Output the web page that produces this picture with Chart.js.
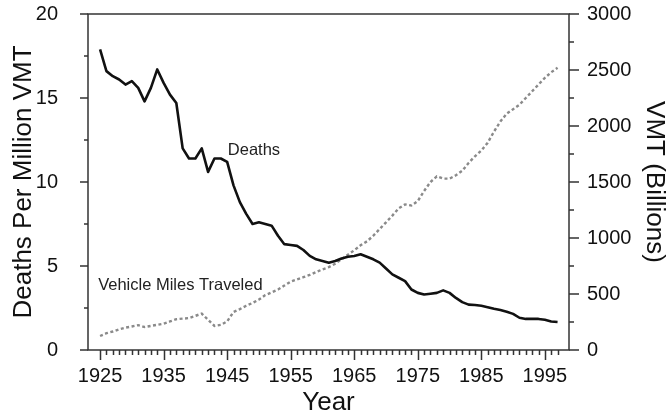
<!DOCTYPE html>
<html>
<head>
<meta charset="utf-8">
<script src="https://cdn.jsdelivr.net/npm/chart.js@4"></script>
<style>
  html, body { margin: 0; padding: 0; background: #fff; }
  #wrap { width: 668px; height: 415px; position: relative; }
</style>
</head>
<body>
<div id="wrap"><canvas id="c"></canvas></div>
<script>
// ---- data ----
const years = [];
for (let yr = 1925; yr <= 1997; yr++) years.push(yr);

const deaths = [
  17.9, 16.6, 16.3, 16.1, 15.8, 16.0, 15.6, 14.8, 15.6, 16.7,   // 1925-1934
  15.9, 15.2, 14.7, 12.0, 11.4, 11.4, 12.0, 10.6, 11.4, 11.4,   // 1935-1944
  11.2, 9.8, 8.8, 8.1, 7.5, 7.6, 7.5, 7.4, 6.8, 6.3,            // 1945-1954
  6.25, 6.2, 5.95, 5.6, 5.4, 5.3, 5.2, 5.3, 5.45, 5.55,         // 1955-1964
  5.6, 5.7, 5.55, 5.4, 5.2, 4.85, 4.5, 4.3, 4.1, 3.6,           // 1965-1974
  3.4, 3.3, 3.35, 3.4, 3.55, 3.4, 3.1, 2.85, 2.7, 2.68,         // 1975-1984
  2.63, 2.55, 2.45, 2.38, 2.28, 2.15, 1.92, 1.85, 1.85, 1.85,   // 1985-1994
  1.8, 1.7, 1.67                                                // 1995-1997
];

const vmt = [
  125, 150, 165, 185, 200, 210, 222, 205, 215, 225,             // 1925-1934
  235, 255, 275, 280, 285, 305, 325, 270, 215, 225,             // 1935-1944
  255, 340, 365, 395, 420, 450, 490, 515, 540, 575,             // 1945-1954
  610, 630, 650, 670, 695, 720, 740, 770, 810, 850,             // 1955-1964
  890, 935, 970, 1020, 1080, 1140, 1200, 1265, 1300, 1290,      // 1965-1974
  1330, 1420, 1500, 1550, 1530, 1530, 1560, 1600, 1670, 1730,   // 1975-1984
  1780, 1850, 1950, 2040, 2110, 2150, 2190, 2250, 2310, 2370,   // 1985-1994
  2430, 2480, 2520                                              // 1995-1997
];

const xTickLabels = [1925, 1935, 1945, 1955, 1965, 1975, 1985, 1995];
const yLeftTicks = [0, 5, 10, 15, 20];
const yRightTicks = [0, 500, 1000, 1500, 2000, 2500, 3000];

const labelDeaths = 'Deaths';
const labelVmt = 'Vehicle Miles Traveled';

// ---- chart ----
const FONT = "'Liberation Sans', Arial, Helvetica, sans-serif";

const frame = {
  id: 'frame',
  afterDraw(chart) {
    const { ctx, chartArea: a, scales: { x, y, y2 } } = chart;
    ctx.save();
    ctx.strokeStyle = '#333';
    ctx.lineWidth = 1.5;
    ctx.strokeRect(a.left, a.top, a.right - a.left, a.bottom - a.top);
    ctx.beginPath();
    for (const yr of years) {
      const px = Math.round(x.getPixelForValue(yr)) + 0.5;
      const len = (yr - 1925) % 10 === 0 ? 10 : 5;
      ctx.moveTo(px, a.bottom);
      ctx.lineTo(px, a.bottom + len);
    }
    for (let v = 0; v <= 20; v += 2.5) {
      const py = y.getPixelForValue(v);
      const len = v % 5 === 0 ? 8 : 4;
      ctx.moveTo(a.left - len, py);
      ctx.lineTo(a.left, py);
    }
    for (let v = 0; v <= 3000; v += 250) {
      const py = y2.getPixelForValue(v);
      const len = v % 500 === 0 ? 10 : 5;
      ctx.moveTo(a.right, py);
      ctx.lineTo(a.right + len, py);
    }
    ctx.stroke();

    ctx.fillStyle = '#222';
    ctx.font = '16.5px ' + FONT;
    ctx.textBaseline = 'alphabetic';
    ctx.textAlign = 'left';
    ctx.fillText(labelDeaths, x.getPixelForValue(1945.1), y.getPixelForValue(11.6));
    ctx.fillText(labelVmt, x.getPixelForValue(1924.7), y.getPixelForValue(3.55));
    ctx.restore();
  }
};

new Chart(document.getElementById('c'), {
  type: 'line',
  data: {
    datasets: [
      {
        label: labelDeaths,
        data: years.map((yr, i) => ({ x: yr, y: deaths[i] })),
        yAxisID: 'y',
        borderColor: '#111',
        borderWidth: 2.6,
        pointRadius: 0,
        tension: 0,
        borderJoinStyle: 'round'
      },
      {
        label: labelVmt,
        data: years.map((yr, i) => ({ x: yr, y: vmt[i] })),
        yAxisID: 'y2',
        borderColor: '#8a8a8a',
        borderWidth: 2.4,
        borderDash: [3, 2.5],
        pointRadius: 0,
        tension: 0
      }
    ]
  },
  options: {
    responsive: true,
    maintainAspectRatio: false,
    animation: false,
    devicePixelRatio: 1,
    layout: { padding: { top: 14, left: 0, right: 0, bottom: 0 } },
    plugins: { legend: { display: false }, tooltip: { enabled: false } },
    scales: {
      x: {
        type: 'linear',
        position: 'bottom',
        min: 1923.1,
        max: 1998.8,
        afterBuildTicks: s => { s.ticks = xTickLabels.map(v => ({ value: v })); },
        afterFit: s => { s.height = 65; s.paddingLeft = 0; s.paddingRight = 0; },
        grid: { display: false, drawTicks: true, tickLength: 10 },
        border: { display: false },
        ticks: { color: '#111', font: { family: FONT, size: 20 }, padding: 4, maxRotation: 0, autoSkip: false, callback: v => String(v) },
        title: { display: true, text: 'Year', color: '#111', font: { family: FONT, size: 26 }, padding: { top: 0, bottom: -3.5 } }
      },
      y: {
        type: 'linear',
        position: 'left',
        min: 0,
        max: 20,
        afterBuildTicks: s => { s.ticks = yLeftTicks.map(v => ({ value: v })); },
        afterFit: s => { s.width = 88; s.paddingTop = 0; s.paddingBottom = 0; },
        grid: { display: false, drawTicks: true, tickLength: 8 },
        border: { display: false },
        ticks: { color: '#111', font: { family: FONT, size: 20 }, padding: 22, callback: v => String(v) },
        title: { display: true, text: 'Deaths Per Million VMT', color: '#111', font: { family: FONT, size: 26 }, padding: { top: 8, bottom: 0 } }
      },
      y2: {
        type: 'linear',
        position: 'right',
        min: 0,
        max: 3000,
        afterBuildTicks: s => { s.ticks = yRightTicks.map(v => ({ value: v })); },
        afterFit: s => { s.width = 99; s.paddingTop = 0; s.paddingBottom = 0; },
        grid: { display: false, drawTicks: true, tickLength: 10 },
        border: { display: false },
        ticks: { color: '#111', font: { family: FONT, size: 20 }, padding: 8, callback: v => String(v) },
        title: { display: true, text: 'VMT (Billions)', color: '#111', font: { family: FONT, size: 26 }, padding: { top: -2, bottom: 0 } }
      }
    }
  },
  plugins: [frame]
});
</script>
</body>
</html>
